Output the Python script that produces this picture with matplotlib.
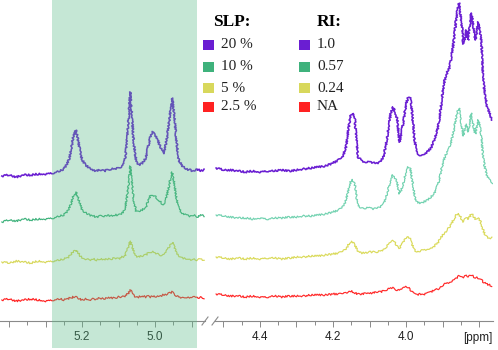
import matplotlib
matplotlib.use("Agg")
import matplotlib.pyplot as plt
from matplotlib.patches import Rectangle
from matplotlib.transforms import blended_transform_factory
from matplotlib.ticker import MultipleLocator, FuncFormatter

# ---------------- data ----------------
series_slp = ["20 %", "10 %", "5 %", "2.5 %"]
series_ri = ["1.0", "0.57", "0.24", "NA"]
colors = ["#6a1ed2", "#3fb27c", "#d8d85c", "#ff2222"]
right_colors = ["#6a1ed2", "#72d2b0", "#dada5a", "#ff2a2a"]
offsets = [145, 101, 59, 21]

ppm_left = [5.42, 5.40, 5.38, 5.36, 5.34, 5.32, 5.30, 5.28, 5.26,
            5.25, 5.24, 5.235, 5.23, 5.225, 5.217, 5.21, 5.205, 5.20,
            5.19, 5.18, 5.17, 5.16, 5.15, 5.14, 5.13, 5.12, 5.11, 5.10, 5.09,
            5.083, 5.078, 5.073, 5.068, 5.063, 5.058, 5.052, 5.045, 5.035,
            5.025, 5.018, 5.012, 5.006, 5.0,
            4.993, 4.985, 4.978, 4.972, 4.966, 4.959, 4.953, 4.947, 4.941,
            4.935, 4.925, 4.915, 4.905, 4.895, 4.885, 4.875, 4.865]

left_purple = [0, 1, -1, 1, 1, 2, 2, 3, 5,
               7, 13, 18, 26, 38, 46, 34, 24, 16,
               11, 8, 6, 5, 6, 5, 6, 7, 7, 8, 10,
               15, 31, 54, 84, 58, 31, 16, 11, 13,
               18, 31, 41, 44, 42,
               36, 29, 22, 28, 41, 61, 78, 58, 34,
               16, 10, 7, 6, 5, 7, 5, 6]
left_green = [-2, 0, -1, 1, 0, 1, 1, 2, 4,
              5, 9, 12, 17, 23, 28, 21, 15, 10,
              7, 5, 4, 3, 4, 3, 5, 4, 5, 5, 7,
              10, 20, 34, 54, 36, 19, 9, 8, 10,
              13, 20, 25, 25, 24,
              21, 18, 15, 18, 27, 39, 48, 36, 21,
              11, 7, 5, 4, 5, 3, 5, 4]
left_yellow = [0, -1, 1, 0, -1, 1, 0, 1, 2,
               3, 4, 6, 8, 10, 12, 9, 6, 4,
               3, 2, 3, 2, 3, 2, 3, 3, 4, 3, 5,
               6, 10, 15, 21, 16, 10, 6, 5, 6,
               7, 9, 10, 10, 9,
               8, 7, 7, 9, 12, 17, 20, 15, 9,
               5, 4, 3, 2, 3, 2, 3, 2]
left_red = [0, 1, -1, 0, 1, 0, -1, 0, 1,
            0, 1, 2, 2, 3, 3, 2, 1, 0,
            1, 0, 1, 1, 2, 1, 2, 2, 2, 3, 3,
            4, 5, 7, 10, 7, 4, 3, 3, 4,
            3, 4, 3, 4, 3,
            4, 4, 5, 5, 6, 7, 8, 6, 4,
            3, 2, 3, 2, 3, 2, 3, 2]

ppm_right = [4.52, 4.50, 4.48, 4.46, 4.44, 4.42, 4.40, 4.38, 4.36, 4.34,
             4.32, 4.30, 4.28, 4.26, 4.24, 4.22, 4.20,
             4.185, 4.175, 4.165, 4.158, 4.152, 4.146, 4.14, 4.132,
             4.12, 4.11, 4.10, 4.09, 4.08, 4.07,
             4.062, 4.055, 4.048, 4.042, 4.036, 4.03, 4.024, 4.018, 4.012,
             4.006, 4.0, 3.994, 3.989, 3.983, 3.977, 3.97,
             3.962, 3.952, 3.942, 3.932, 3.922, 3.912,
             3.905, 3.899, 3.893, 3.887, 3.881, 3.875, 3.869, 3.863, 3.858,
             3.855, 3.851, 3.847, 3.843, 3.839, 3.835, 3.830, 3.826, 3.822,
             3.818, 3.814, 3.810, 3.806, 3.802, 3.798, 3.794, 3.789, 3.784,
             3.778, 3.772, 3.765]

right_purple = [8, 6, 6, 5, 4, 5, 4, 5, 5, 6,
                5, 6, 7, 8, 9, 10, 13,
                16, 18, 28, 46, 60, 63, 56, 19,
                15, 14, 15, 13, 13, 14,
                19, 31, 48, 63, 69, 64, 56, 34, 44,
                58, 72, 79, 79, 61, 36, 23,
                21, 22, 24, 28, 36, 49,
                68, 86, 98, 104, 108, 121, 136, 156, 168,
                173, 161, 149, 132, 138, 146, 136, 148, 163,
                156, 144, 136, 146, 154, 146, 136, 96, 81,
                69, 63, 56]
right_green = [5, 4, 3, 2, 2, 1, 2, 1, 2, 2,
               3, 3, 4, 4, 5, 6, 8,
               10, 12, 19, 30, 38, 40, 35, 14,
               12, 12, 12, 11, 12, 13,
               16, 22, 32, 41, 45, 42, 36, 26, 31,
               39, 48, 53, 52, 40, 24, 18,
               17, 18, 20, 23, 27, 36,
               48, 57, 64, 68, 72, 80, 90, 102, 110,
               112, 103, 93, 84, 90, 96, 88, 97, 107,
               100, 90, 86, 95, 100, 93, 84, 62, 52,
               44, 40, 36]
right_yellow = [5, 4, 3, 4, 3, 4, 3, 4, 4, 3,
                4, 5, 5, 6, 6, 7, 8,
                9, 10, 13, 17, 20, 20, 17, 11,
                9, 9, 10, 10, 10, 11,
                12, 15, 18, 20, 21, 19, 16, 14, 17,
                21, 24, 25, 23, 17, 12, 10,
                11, 12, 13, 14, 16, 20,
                24, 27, 30, 32, 35, 39, 43, 47, 49,
                48, 45, 42, 40, 43, 44, 43, 45, 48,
                47, 45, 43, 44, 44, 42, 38, 32, 27,
                25, 24, 24]
right_red = [6, 5, 4, 4, 3, 4, 3, 3, 4, 3,
             4, 4, 4, 5, 5, 5, 6,
             6, 6, 7, 8, 9, 8, 7, 6,
             6, 7, 7, 7, 8, 8,
             9, 10, 11, 12, 12, 11, 10, 10, 11,
             12, 13, 13, 11, 8, 6, 5,
             6, 5, 7, 8, 10, 11,
             13, 15, 16, 17, 18, 19, 21, 22, 23,
             24, 24, 23, 23, 24, 24, 23, 24, 25,
             24, 23, 22, 23, 22, 21, 20, 18, 17,
             16, 15, 14]

left_data = [left_purple, left_green, left_yellow, left_red]
right_data = [right_purple, right_green, right_yellow, right_red]

span_ppm = (5.282, 4.885)
left_lim = (5.425, 4.863)
right_lim = (4.523, 3.762)

# ---------------- figure ----------------
W, H = 498, 350
fig = plt.figure(figsize=(W / 100, H / 100), dpi=100)
bottom = (H - 321) / H
axL = fig.add_axes([0, bottom, 205 / W, 1 - bottom])
axR = fig.add_axes([215 / W, bottom, 278 / W, 1 - bottom])

grey = "#8a8a8a"
for ax, ppm, data, cols, lim in [(axL, ppm_left, left_data, colors, left_lim),
                                  (axR, ppm_right, right_data, right_colors, right_lim)]:
    for i, (vals, c) in enumerate(zip(data, cols)):
        y = [v + offsets[i] for v in vals]
        ln, = ax.plot(ppm, y, color=c, lw=1.15 if i == 0 else 0.85, zorder=2)
        ln.set_sketch_params(scale=0.9, length=1.6, randomness=2.5)
    ax.set_xlim(*lim)
    ax.set_ylim(0, 321)
    ax.set_facecolor("none")
    for s in ["left", "right", "top"]:
        ax.spines[s].set_visible(False)
    ax.spines["bottom"].set_color(grey)
    ax.spines["bottom"].set_linewidth(0.8)
    ax.set_yticks([])
    ax.xaxis.set_major_locator(MultipleLocator(0.1))
    ax.xaxis.set_minor_locator(MultipleLocator(0.05))
    ax.tick_params(axis="x", which="major", length=4.5, width=0.7, color=grey,
                   labelsize=8.5, labelcolor="#222222", pad=2.5)
    ax.tick_params(axis="x", which="minor", length=2.8, width=0.7, color=grey)

labels_left = {5.2, 5.0}
labels_right = {4.4, 4.2, 4.0}
axL.xaxis.set_major_formatter(FuncFormatter(
    lambda v, p: f"{v:.1f}" if round(v, 1) in labels_left else ""))
axR.xaxis.set_major_formatter(FuncFormatter(
    lambda v, p: f"{v:.1f}" if round(v, 1) in labels_right else ""))
for ax in (axL, axR):
    for t in ax.get_xticklabels():
        t.set_family(["Liberation Sans", "DejaVu Sans"])

axR.text(1.0, -0.052, "[ppm]", transform=axR.transAxes, ha="right", va="center",
         fontsize=8.5, color="#222222", family=["Liberation Sans", "DejaVu Sans"])

# break marks
for ax, xa in [(axL, 1.0), (axR, 0.0)]:
    tr = ax.transAxes
    dx = 3 / (ax.get_position().width * W)
    dy = 4 / (ax.get_position().height * H)
    ax.plot([xa - dx, xa + dx], [-dy, dy], transform=tr, color=grey, lw=0.8,
            clip_on=False)

# green highlighted region (over traces, semi-transparent)
tr = blended_transform_factory(axL.transData, fig.transFigure)
rect = Rectangle((span_ppm[0], 0.005), span_ppm[1] - span_ppm[0], 0.995,
                 transform=tr, facecolor="#59bd87", alpha=0.35, edgecolor="none",
                 clip_on=False, zorder=3)
axL.add_patch(rect)

# legend
serif = ["Liberation Serif", "DejaVu Serif"]
fig.text(213 / W, 1 - 22 / H, "SLP:", fontsize=12.5, fontweight="bold",
         family=serif, va="center", ha="left")
fig.text(317 / W, 1 - 22 / H, "RI:", fontsize=12.5, fontweight="bold",
         family=serif, va="center", ha="left")
rows = [45, 67, 88, 107]
for i in range(4):
    yc = 1 - rows[i] / H
    for xs, lab in [(203, series_slp[i]), (299, series_ri[i])]:
        fig.patches.append(Rectangle((xs / W, yc - 5 / H), 11 / W, 10 / H,
                                     transform=fig.transFigure, facecolor=colors[i],
                                     edgecolor="none"))
        fig.text((xs + 18) / W, yc, lab, fontsize=11, family=serif,
                 va="center", ha="left", color="#222222")

fig.savefig("out.png", dpi=100)
